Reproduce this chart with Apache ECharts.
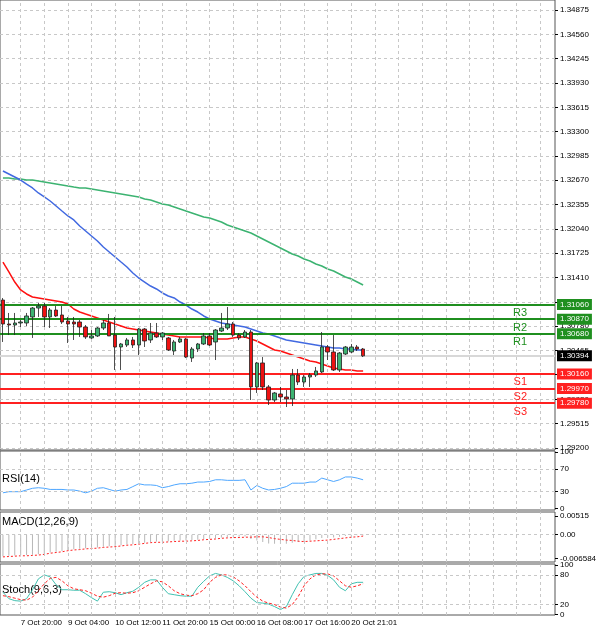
<!DOCTYPE html>
<html><head><meta charset="utf-8">
<script src="https://cdn.jsdelivr.net/npm/echarts@6/dist/echarts.min.js"></script>
<style>html,body{margin:0;padding:0;background:#fff}#c{width:600px;height:630px}</style>
</head><body><div id="c"></div>
<script>
// OHLC candles: [open, close, low, high]
const candles = [
[1.31118,1.30807,1.30574,1.31144],[1.30807,1.30794,1.30664,1.30950],[1.30794,1.30820,1.30664,1.30950],
[1.30820,1.30833,1.30768,1.30859],[1.30820,1.30911,1.30781,1.30950],[1.30898,1.31014,1.30626,1.31027],
[1.31014,1.31040,1.30898,1.31079],[1.31040,1.30898,1.30768,1.31079],[1.30898,1.30988,1.30755,1.31014],
[1.30988,1.30911,1.30898,1.31040],[1.30924,1.30833,1.30807,1.31040],[1.30846,1.30807,1.30561,1.30898],
[1.30833,1.30807,1.30600,1.30898],[1.30833,1.30768,1.30639,1.30859],[1.30768,1.30639,1.30613,1.30794],
[1.30626,1.30652,1.30613,1.30729],[1.30652,1.30755,1.30639,1.30768],[1.30755,1.30820,1.30729,1.30859],
[1.30820,1.30652,1.30652,1.30937],[1.30664,1.30509,1.30211,1.30898],[1.30509,1.30548,1.30211,1.30561],
[1.30535,1.30600,1.30509,1.30626],[1.30600,1.30535,1.30496,1.30639],[1.30535,1.30742,1.30405,1.30755],
[1.30742,1.30587,1.30509,1.30755],[1.30600,1.30690,1.30561,1.30820],[1.30690,1.30639,1.30626,1.30820],
[1.30639,1.30690,1.30600,1.30703],[1.30626,1.30470,1.30457,1.30639],[1.30457,1.30574,1.30405,1.30600],
[1.30574,1.30613,1.30561,1.30639],[1.30613,1.30379,1.30366,1.30626],[1.30366,1.30483,1.30315,1.30509],
[1.30483,1.30548,1.30444,1.30561],[1.30548,1.30652,1.30535,1.30690],[1.30652,1.30535,1.30522,1.30690],
[1.30574,1.30729,1.30340,1.30742],[1.30716,1.30755,1.30703,1.30950],[1.30755,1.30807,1.30729,1.31027],
[1.30807,1.30664,1.30639,1.30833],[1.30664,1.30626,1.30600,1.30690],[1.30639,1.30703,1.30626,1.30729],
[1.30703,1.29991,1.29822,1.30729],[1.29991,1.30302,1.29913,1.30315],[1.30302,1.29991,1.29952,1.30379],
[1.29991,1.29822,1.29757,1.30016],[1.29822,1.29913,1.29796,1.29926],[1.29900,1.29861,1.29796,1.29991],
[1.29861,1.29835,1.29731,1.29952],[1.29835,1.30146,1.29744,1.30224],[1.30146,1.30055,1.30016,1.30224],
[1.30055,1.30120,1.29991,1.30146],[1.30120,1.30146,1.29991,1.30172],[1.30146,1.30198,1.30120,1.30250],
[1.30185,1.30509,1.30172,1.30703],[1.30509,1.30444,1.30340,1.30535],[1.30444,1.30211,1.30198,1.30664],
[1.30211,1.30431,1.30185,1.30444],[1.30418,1.30509,1.30405,1.30522],[1.30444,1.30509,1.30431,1.30548],
[1.30509,1.30483,1.30457,1.30535],[1.30483,1.30394,1.30379,1.30496]
];
const maFast = [1.31610,1.31481,1.31351,1.31248,1.31196,1.31157,1.31144,1.31131,1.31118,1.31105,1.31092,1.31066,1.31001,1.30962,1.30936,1.30911,1.30885,1.30859,1.30833,1.30807,1.30781,1.30755,1.30742,1.30729,1.30716,1.30703,1.30690,1.30677,1.30664,1.30651,1.30638,1.30638,1.30638,1.30638,1.30638,1.30625,1.30612,1.30612,1.30612,1.30625,1.30638,1.30638,1.30612,1.30587,1.30548,1.30509,1.30470,1.30457,1.30431,1.30405,1.30379,1.30353,1.30327,1.30314,1.30288,1.30262,1.30236,1.30223,1.30210,1.30210,1.30198,1.30198];
const maMid = [1.32790,1.32751,1.32712,1.32673,1.32621,1.32570,1.32505,1.32453,1.32401,1.32336,1.32271,1.32207,1.32155,1.32077,1.32012,1.31947,1.31883,1.31805,1.31740,1.31675,1.31610,1.31546,1.31468,1.31403,1.31351,1.31299,1.31261,1.31209,1.31170,1.31144,1.31092,1.31053,1.31001,1.30962,1.30911,1.30872,1.30846,1.30820,1.30807,1.30794,1.30781,1.30768,1.30742,1.30716,1.30690,1.30677,1.30651,1.30625,1.30600,1.30587,1.30574,1.30561,1.30548,1.30535,1.30522,1.30509,1.30496,1.30496,1.30483,1.30483,1.30470,1.30470];
const maSlow = [1.32699,1.32699,1.32686,1.32686,1.32673,1.32673,1.32660,1.32647,1.32634,1.32621,1.32608,1.32595,1.32582,1.32570,1.32570,1.32557,1.32544,1.32531,1.32518,1.32505,1.32492,1.32479,1.32466,1.32453,1.32427,1.32414,1.32388,1.32362,1.32349,1.32323,1.32297,1.32271,1.32246,1.32220,1.32194,1.32181,1.32155,1.32129,1.32090,1.32064,1.32038,1.32012,1.31986,1.31947,1.31909,1.31870,1.31831,1.31792,1.31753,1.31714,1.31688,1.31649,1.31623,1.31585,1.31559,1.31520,1.31494,1.31455,1.31416,1.31390,1.31351,1.31312];
const rsi = [28,30,30,30,33,36,37,36,34,34,34,33,33,31,28,31,36,37,34,31,33,34,39,44,42,42,41,37,39,42,44,44,45,47,47,48,51,51,50,50,50,51,33,41,36,33,34,36,39,45,45,45,47,47,54,51,48,51,56,56,54,51];
const macdHist = [-0.0059,-0.0058,-0.0057,-0.0056,-0.0056,-0.0055,-0.0054,-0.0052,-0.0049,-0.0047,-0.0045,-0.0042,-0.0040,-0.0039,-0.0037,-0.0036,-0.0035,-0.0033,-0.0032,-0.0031,-0.0029,-0.0027,-0.0026,-0.0024,-0.0022,-0.0020,-0.0019,-0.0019,-0.0018,-0.0017,-0.0016,-0.0016,-0.0015,-0.0014,-0.0012,-0.0011,-0.0010,-0.0008,-0.0007,-0.0006,-0.0006,-0.0005,-0.0012,-0.0016,-0.0020,-0.0024,-0.0025,-0.0026,-0.0025,-0.0022,-0.0020,-0.0018,-0.0016,-0.0013,-0.0009,-0.0008,-0.0008,-0.0006,-0.0004,-0.0003,-0.0002,-0.0002];
const macdSignal = [-0.0061,-0.0060,-0.0059,-0.0058,-0.0058,-0.0057,-0.0056,-0.0054,-0.0051,-0.0049,-0.0047,-0.0044,-0.0042,-0.0041,-0.0039,-0.0038,-0.0037,-0.0035,-0.0034,-0.0033,-0.0031,-0.0029,-0.0028,-0.0026,-0.0024,-0.0022,-0.0021,-0.0021,-0.0020,-0.0019,-0.0018,-0.0018,-0.0017,-0.0016,-0.0014,-0.0013,-0.0012,-0.0010,-0.0009,-0.0008,-0.0008,-0.0007,-0.0007,-0.0006,-0.0006,-0.0008,-0.0011,-0.0013,-0.0015,-0.0016,-0.0018,-0.0019,-0.0018,-0.0017,-0.0016,-0.0015,-0.0013,-0.0011,-0.0009,-0.0007,-0.0006,-0.0004];
const stochMain = [45,32,28,27,32,50,72,80,76,60,50,50,49,49,42,34,27,45,46,44,40,44,47,55,65,70,70,55,42,40,38,37,37,55,67,78,83,80,75,68,58,46,33,24,23,21,16,10,16,40,62,77,80,83,83,79,70,55,48,62,65,65];
const stochSignal = [38,36,33,30,29,35,48,62,73,75,68,58,52,50,48,43,37,35,38,43,44,43,44,48,55,62,68,66,58,48,42,39,38,42,50,65,75,80,80,76,68,58,46,35,27,23,20,15,13,20,36,58,72,80,82,82,78,68,58,55,58,62];
const timeLabels = ['7 Oct 20:00','9 Oct 04:00','10 Oct 12:00','11 Oct 20:00','15 Oct 00:00','16 Oct 08:00','17 Oct 16:00','20 Oct 21:01'];
const timeLabelBars = [3,11,19,27,35,43,51,59];
const priceTicks = [1.29200,1.29515,1.29830,1.30150,1.30465,1.30780,1.31095,1.31410,1.31725,1.32040,1.32355,1.32670,1.32985,1.33300,1.33615,1.33930,1.34245,1.34560,1.34875];
const levelNames = ['R3','R2','R1','S1','S2','S3'];
const levelValues = [1.31060,1.30870,1.30680,1.30160,1.29970,1.29780];
const lastPrice = 1.30394;
const rsiTicks = [0,30,70,100];
const macdTicks = [-0.006584,0,0.00515];
const stochTicks = [0,20,80,100];

const FONT = 'Liberation Sans';
const N = 94;
const cats = Array.from({length:N},(_,i)=>String(i));
const gridLinesX = [];
for (let i=3;i<N;i+=4) gridLinesX.push(i);
const dash = {color:'#c8c8c8', type:[3,3], width:1};
const grids = [
  {left:0,right:45,top:0,height:450},
  {left:0,right:45,top:451,height:59},
  {left:0,right:45,top:512,height:50},
  {left:0,right:45,top:564,height:51}
];
grids.forEach(g=>{g.show=true;g.borderColor='#555';g.borderWidth=1;});
const xAxes = grids.map((g,k)=>({
  type:'category', gridIndex:k, data:cats, boundaryGap:true,
  axisLine:{show:false}, axisTick:{show:false},
  axisLabel:{show:k===3, interval:(i)=>timeLabelBars.includes(i), align:'left', margin:4,
    fontSize:8, color:'#000', fontFamily:FONT,
    formatter:(v,i)=>{const j=timeLabelBars.indexOf(i);return j>=0?timeLabels[j]:'';}},
  splitLine:{show:false}
}));
function yAx(k,min,max,ticks,fmt,split){
  return {type:'value',gridIndex:k,min,max,position:'right',axisLine:{show:false},
    axisTick:{show:true,length:3,lineStyle:{color:'#000'},customValues:ticks},
    axisLabel:{fontSize:8,color:'#000',margin:5,fontFamily:FONT,customValues:ticks,formatter:fmt},
    splitLine:{show:!!split,lineStyle:dash}};
}
const yAxes = [
  yAx(0,1.29174,1.35006,priceTicks,v=>v.toFixed(5),true),
  yAx(1,-2.3,101.8,rsiTicks,v=>String(v)),
  yAx(2,-0.0075,0.0062,macdTicks,v=>v===0?'0.00':String(v)),
  yAx(3,-1,102,stochTicks,v=>String(v))
];
const vLines = gridLinesX.map(i=>({xAxis:i}));
const levelLines = [];
levelValues.forEach((v,i)=>{
  const c = i<3 ? '#1f8f1f' : '#ff2020';
  levelLines.push({yAxis:v, lineStyle:{color:c,width:2,type:'solid'},
    label:{show:true,position:'end',formatter:v.toFixed(5),color:'#fff',backgroundColor:c,
      padding:[2,3,1,3],fontSize:8,distance:2,fontFamily:FONT}});
  levelLines.push({yAxis:v, lineStyle:{color:c,width:2,type:'solid'},
    label:{show:true,position:'insideEndBottom',formatter:levelNames[i],color:c,fontSize:11,distance:[28,3],fontFamily:FONT}});
});
levelLines.unshift({yAxis:lastPrice, lineStyle:{color:'#d8d8d8',width:2,type:'solid'},
  label:{show:true,position:'end',formatter:lastPrice.toFixed(5),color:'#fff',backgroundColor:'#000',
    padding:[2,3,1,3],fontSize:8,distance:2,fontFamily:FONT}});

function ml(data, lineStyle){return {silent:true,symbol:'none',animation:false,precision:6,label:{show:false},lineStyle,data};}
const lineS = (k,data,ls,extra)=>Object.assign({type:'line',xAxisIndex:k,yAxisIndex:k,data,symbol:'none',
  silent:true,animation:false,lineStyle:ls},extra||{});
const hd = (vals)=>vals.map(v=>({yAxis:v}));
const vgrid = (k)=>({type:'line',xAxisIndex:k,yAxisIndex:k,data:[],silent:true,z:1,markLine:ml(vLines,dash)});

const option = {
  animation:false,
  grid:grids, xAxis:xAxes, yAxis:yAxes,
  series:[
    vgrid(0), vgrid(1), vgrid(2), vgrid(3),
    lineS(0,maSlow,{color:'#3cb371',width:1.5},{z:4}),
    lineS(0,maMid,{color:'#4169e1',width:1.5},{z:4,markLine:ml(levelLines,{})}),
    lineS(0,maFast,{color:'#ff1010',width:1.5},{z:4}),
    {type:'candlestick',xAxisIndex:0,yAxisIndex:0,data:candles,barWidth:4,z:5,silent:true,
      itemStyle:{color:'#3cb371',color0:'#ee1111',borderColor:'#222',borderColor0:'#222',borderWidth:0.8}},
    lineS(1,rsi,{color:'#4da6ff',width:1},{markLine:ml(hd([30,70]),dash)}),
    {type:'bar',xAxisIndex:2,yAxisIndex:2,data:macdHist,barWidth:1,itemStyle:{color:'#b8b8b8'},silent:true},
    lineS(2,macdSignal,{color:'#ff2020',width:1,type:[2,2]},{markLine:ml(hd([0]),dash)}),
    lineS(3,stochMain,{color:'#40c0b0',width:1},{markLine:ml(hd([20,80]),dash)}),
    lineS(3,stochSignal,{color:'#ff2020',width:1,type:[3,2]})
  ],
  graphic:[
    {type:'text',left:2,top:473,style:{text:'RSI(14)',fontSize:11,fill:'#000',fontFamily:FONT}},
    {type:'text',left:2,top:516,style:{text:'MACD(12,26,9)',fontSize:11,fill:'#000',fontFamily:FONT}},
    {type:'text',left:2,top:584,style:{text:'Stoch(9,6,3)',fontSize:11,fill:'#000',fontFamily:FONT}}
  ]
};
const chart = echarts.init(document.getElementById('c'),null,{renderer:'canvas'});
chart.setOption(option);
</script></body></html>
